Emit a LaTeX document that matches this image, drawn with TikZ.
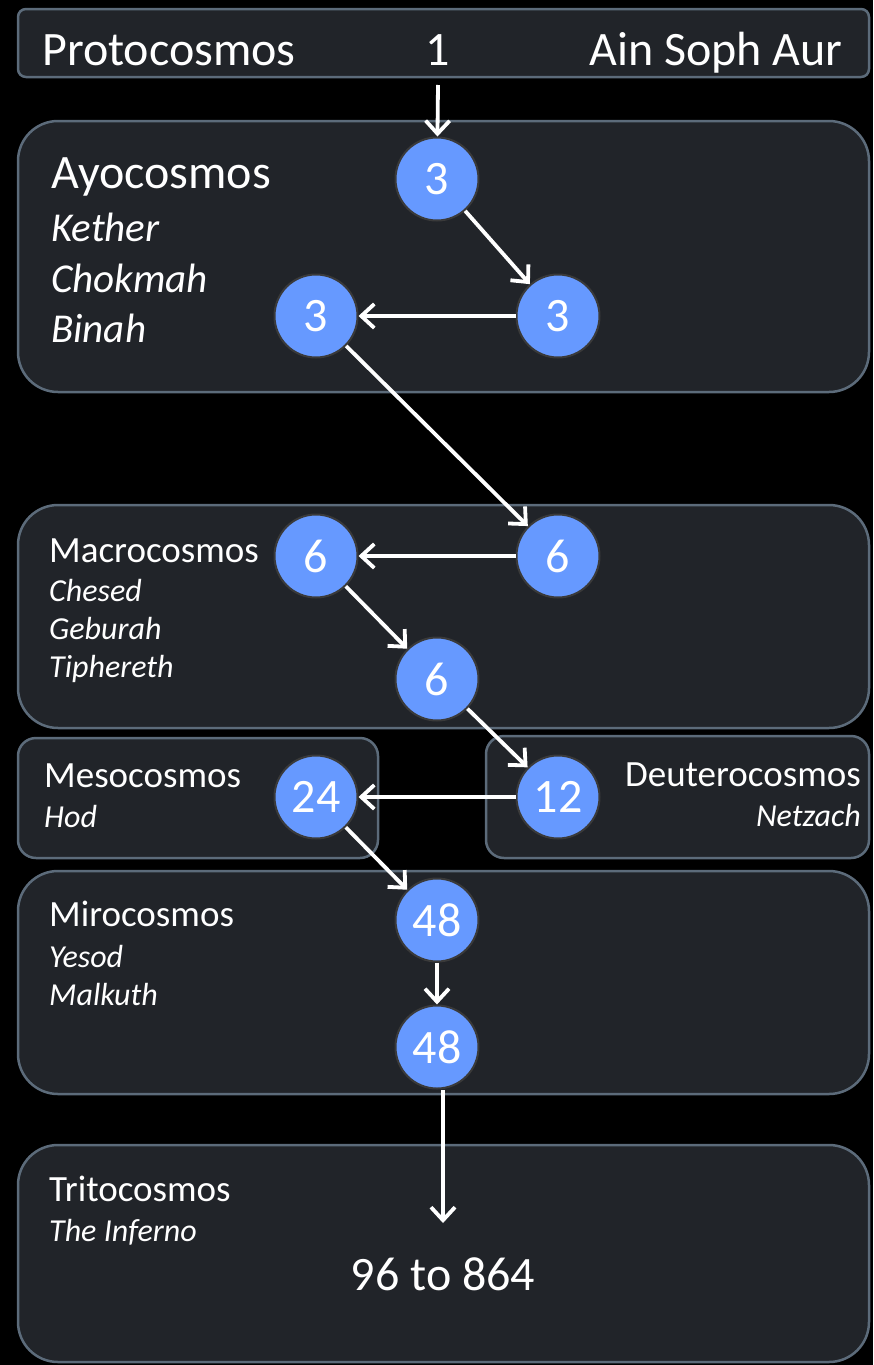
\documentclass[tikz,border=0pt]{standalone}
\usepackage{fontspec}
\setmainfont{Carlito}
\usetikzlibrary{arrows.meta}
\definecolor{boxfill}{HTML}{212429}
\definecolor{boxline}{HTML}{5C6B7A}
\definecolor{ballblue}{HTML}{6699FF}
\definecolor{ballline}{HTML}{3A3A3A}

\begin{document}
\begin{tikzpicture}[x=1pt,y=-1pt,
		box/.style={draw=boxline,fill=boxfill,line width=2.5pt},
		ball/.style={circle,draw=ballline,line width=2pt,fill=ballblue,text=white,minimum size=83pt,inner sep=0pt,font=\fontsize{48}{48}\selectfont},
		arr/.style={white,line width=3.8pt,-{Straight Barb[length=13pt,width=24pt]}},
		big/.style={text=white,inner sep=0pt,font=\fontsize{48}{48}\selectfont},
		mid/.style={text=white,inner sep=0pt,font=\fontsize{37}{37}\selectfont},
		subbig/.style={text=white,inner sep=0pt,font=\fontsize{41}{41}\selectfont\itshape},
		sub/.style={text=white,inner sep=0pt,font=\fontsize{32}{32}\selectfont\itshape}]
			\fill[black] (0,0) rectangle (873,1365);
			\useasboundingbox (0,0) rectangle (873,1365);
			% boxes
			\draw[box,rounded corners=8pt] (18,9) rectangle (869,77);
			\draw[box,rounded corners=40pt] (18,121) rectangle (869,392);
			\draw[box,rounded corners=40pt] (18,505) rectangle (869,728);
			\draw[box,rounded corners=18pt] (18,738) rectangle (378,858);
			\draw[box,rounded corners=18pt] (486,736) rectangle (869,858);
			\draw[box,rounded corners=40pt] (18,871) rectangle (869,1094);
			\draw[box,rounded corners=40pt] (18,1145) rectangle (869,1362);
			% labels
			\node[big,anchor=base west] (proto) at (42,65) {Protocosmos};
			\node[big,anchor=base] (one) at (438,65) {1};
			\node[big,anchor=base east] (ain) at (843,65) {Ain Soph Aur};
			\node[big,anchor=base west] (ayo) at (51,188) {Ayocosmos};
			\node[subbig,anchor=base west] (kether) at (51,241) {Kether};
			\node[subbig,anchor=base west] (chokmah) at (51,292) {Chokmah};
			\node[subbig,anchor=base west] (binah) at (51,342) {Binah};
			\node[mid,anchor=base west] (macro) at (49,562) {Macrocosmos};
			\node[sub,anchor=base west] (chesed) at (49,601) {Chesed};
			\node[sub,anchor=base west] (geburah) at (49,639) {Geburah};
			\node[sub,anchor=base west] (tiph) at (49,677) {Tiphereth};
			\node[mid,anchor=base west] (meso) at (44,787) {Mesocosmos};
			\node[sub,anchor=base west] (hod) at (44,827) {Hod};
			\node[mid,anchor=base east] (deutero) at (861,786) {Deuterocosmos};
			\node[sub,anchor=base east] (netzach) at (861,826) {Netzach};
			\node[mid,anchor=base west] (miro) at (49,926) {Mirocosmos};
			\node[sub,anchor=base west] (yesod) at (49,967) {Yesod};
			\node[sub,anchor=base west] (malkuth) at (49,1005) {Malkuth};
			\node[mid,anchor=base west] (trito) at (49,1201) {Tritocosmos};
			\node[sub,anchor=base west] (inferno) at (49,1241) {The Inferno};
			\node[big,anchor=base] (range) at (443,1290) {96 to 864};
			% balls
			\node[ball] (ayoa) at (437,179) {3};
			\node[ball] (ayob) at (558,316) {3};
			\node[ball] (ayoc) at (316,316) {3};
			\node[ball] (macroa) at (558,556) {6};
			\node[ball] (macrob) at (316,556) {6};
			\node[ball] (macroc) at (437,679) {6};
			\node[ball] (deuta) at (558,797) {12};
			\node[ball] (mesoa) at (316,797) {24};
			\node[ball] (miroa) at (437,920) {48};
			\node[ball] (mirob) at (437,1047) {48};
			\coordinate (infstart) at (443,1090);
			\coordinate (infend) at (443,1223);
			% arrows
			\draw[arr] ([yshift=-20pt]one.base) -- (ayoa);
			\draw[arr] (ayoa) -- (ayob);
			\draw[arr] (ayob) -- (ayoc);
			\draw[arr] (ayoc) -- (macroa);
			\draw[arr] (macroa) -- (macrob);
			\draw[arr] (macrob) -- (macroc);
			\draw[arr] (macroc) -- (deuta);
			\draw[arr] (deuta) -- (mesoa);
			\draw[arr] (mesoa) -- (miroa);
			\draw[arr] (miroa) -- (mirob);
			\draw[arr] (infstart) -- (infend);
		\end{tikzpicture}
\end{document}
